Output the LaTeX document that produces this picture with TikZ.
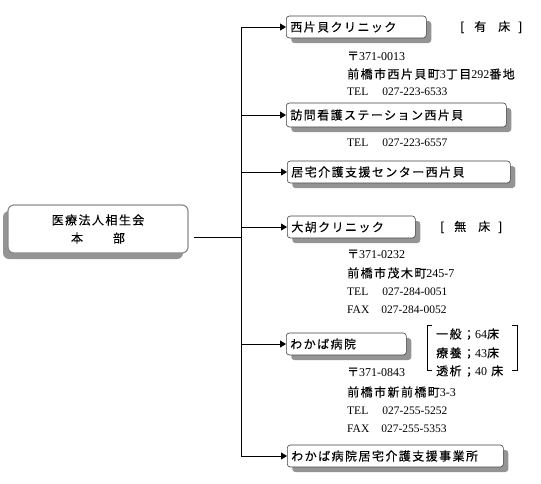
\documentclass[tikz,border=0pt]{standalone}
\usepackage{fontspec}
\setmainfont{Liberation Serif}
\newfontfamily\jp[LetterSpace=12,FakeBold=0.15]{Noto Sans CJK JP}
\newfontfamily\lat{Liberation Serif}
\usetikzlibrary{arrows.meta,shadows}
\tikzset{
  orgbox/.style={draw=black!75, fill=white, rounded corners=3pt, line width=0.6pt,
    minimum height=22pt, inner xsep=4pt, inner ysep=2pt, anchor=west, align=left,
    font=\jp\fontsize{12}{14}\selectfont,
    drop shadow={shadow xshift=5pt, shadow yshift=-5pt, fill=black!42, opacity=1}},
  hqbox/.style={draw=black!45, fill=white, rounded corners=6pt, line width=1.2pt,
    minimum width=180pt, minimum height=48pt, align=center,
    font=\jp\fontsize{12}{18}\selectfont,
    drop shadow={shadow xshift=-5pt, shadow yshift=-6pt, fill=black!42, opacity=1}},
  info/.style={anchor=west, inner sep=0pt, font=\jp\fontsize{12}{14}\selectfont},
  tel/.style={anchor=west, inner sep=0pt, font=\lat\fontsize{11.5}{14}\selectfont},
  conn/.style={line width=0.8pt},
  arr/.style={line width=0.8pt, -{Triangle[length=6pt,width=7pt]}}
}
\begin{document}
\begin{tikzpicture}[x=1pt,y=-1pt]
\useasboundingbox (0,0) rectangle (541,483);
% head office
\node[hqbox] (hq) at (98,229) {医療法人相生会\\本\hspace{30pt}部};
% boxes
\node[orgbox, text width=132pt] (n1) at (286,27) {西片貝クリニック};
\node[orgbox, text width=212pt, minimum height=24pt] (n2) at (286,115) {訪問看護ステーション西片貝};
\node[orgbox, text width=215pt] (n3) at (287,172) {居宅介護支援センター西片貝};
\node[orgbox, text width=120pt] (n4) at (287,227) {大胡クリニック};
\node[orgbox, text width=112pt] (n5) at (286,344) {わかば病院};
\node[orgbox, text width=208pt] (n6) at (287,456) {わかば病院居宅介護支援事業所};
% connectors
\coordinate (j) at (241,237);
\coordinate (top) at (241,27);
\coordinate (bot) at (241,456);
\draw[conn] ([xshift=5pt]hq.east |- j) -- (j);
\draw[conn] (top) -- (bot);
\draw[arr] (top) -- (n1);
\draw[arr] (n2 -| top) -- (n2);
\draw[arr] (n3 -| top) -- (n3);
\draw[arr] (n4 -| top) -- (n4);
\draw[arr] (n5 -| top) -- (n5);
\draw[arr] (bot) -- (n6);
% bed labels
\node[info] (b1) at (460,27) {[\hspace{10pt}有\hspace{12pt}床\hspace{8pt}]};
\node[info] (b4) at (440,227) {[\hspace{10pt}無\hspace{12pt}床\hspace{8pt}]};
% clinic 1 info
\node[info] (a1) at (347,56) {〒{\lat 371-0013}};
\node[info] (a2) at (347,74) {前橋市西片貝町{\lat 3}丁目{\lat 292}番地};
\node[tel] (a3) at (347,92) {TEL\hspace{14pt}027-223-6533};
% station info
\node[tel] (s1) at (347,143) {TEL\hspace{14pt}027-223-6557};
% clinic 2 info
\node[info] (c1) at (347,254) {〒{\lat 371-0232}};
\node[info] (c2) at (347,273) {前橋市茂木町{\lat 245-7}};
\node[tel] (c3) at (347,292) {TEL\hspace{14pt}027-284-0051};
\node[tel] (c4) at (347,310) {FAX\hspace{12pt}027-284-0052};
% hospital beds
\draw[conn] (432,325) -- (427,325) -- (427,370) -- (432,370);
\draw[conn] (512,325) -- (517,325) -- (517,370) -- (512,370);
\node[info] (h1) at (436,334) {一般；{\lat 64}床};
\node[info] (h2) at (436,353) {療養；{\lat 43}床};
\node[info] (h3) at (436,371) {透析；{\lat 40} 床};
% hospital info
\node[info] (d1) at (347,372) {〒{\lat 371-0843}};
\node[info] (d2) at (347,392) {前橋市新前橋町{\lat 3-3}};
\node[tel] (d3) at (347,411) {TEL\hspace{14pt}027-255-5252};
\node[tel] (d4) at (347,429) {FAX\hspace{12pt}027-255-5353};
\end{tikzpicture}
\end{document}
